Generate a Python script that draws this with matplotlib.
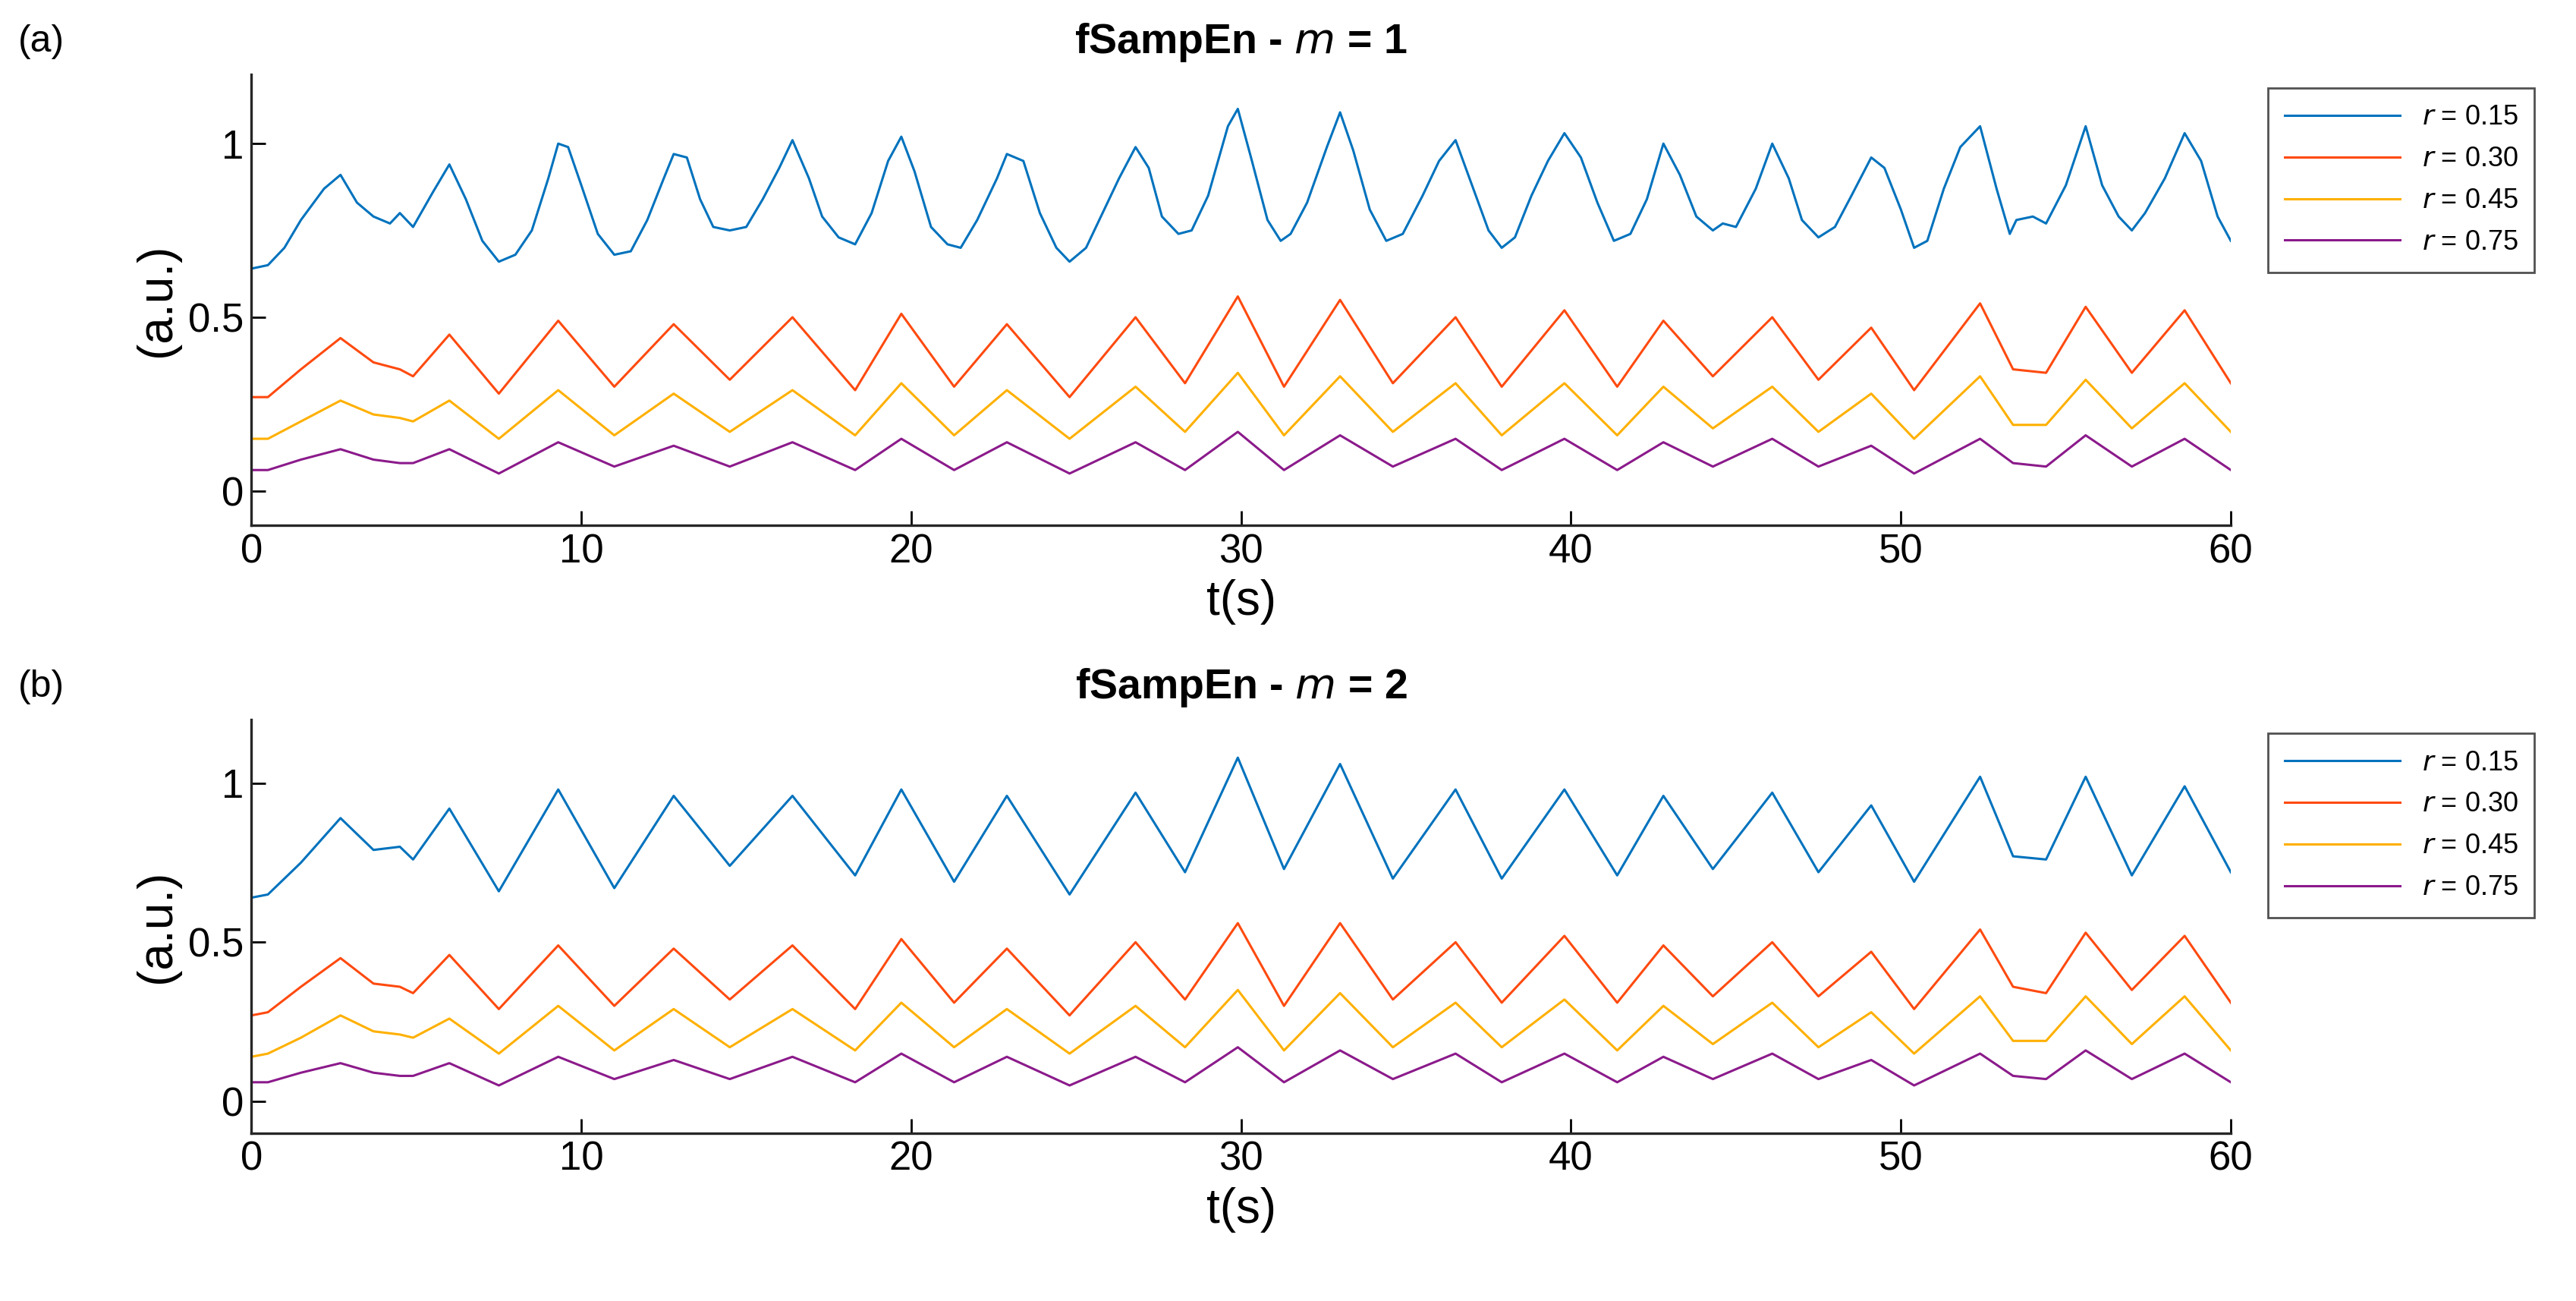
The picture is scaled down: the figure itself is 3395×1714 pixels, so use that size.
import numpy as np
import matplotlib
matplotlib.use("Agg")
import matplotlib.pyplot as plt

plt.rcParams["font.family"] = ["Liberation Sans", "DejaVu Sans"]

# ── detailed blue trace, panel (a) ──
t_a = [0, 0.5, 1, 1.5, 2.2, 2.7, 3.2, 3.7, 4.2, 4.5, 4.9, 5.5, 6.0, 6.5, 7.0, 7.5, 8.0, 8.5,
       9.0, 9.3, 9.6, 10.0, 10.5, 11.0, 11.5, 12.0, 12.5, 12.8, 13.2, 13.6, 14.0, 14.5, 15.0,
       15.5, 16.0, 16.4, 16.9, 17.3, 17.8, 18.3, 18.8, 19.3, 19.7, 20.1, 20.6, 21.1, 21.5,
       22.0, 22.6, 22.9, 23.4, 23.9, 24.4, 24.8, 25.3, 25.8, 26.3, 26.8, 27.2, 27.6, 28.1,
       28.5, 29.0, 29.6, 29.9, 30.3, 30.8, 31.2, 31.5, 32.0, 32.6, 33.0, 33.4, 33.9, 34.4,
       34.9, 35.5, 36.0, 36.5, 37.0, 37.5, 37.9, 38.3, 38.8, 39.3, 39.8, 40.3, 40.8, 41.3,
       41.8, 42.3, 42.8, 43.3, 43.8, 44.3, 44.6, 45.0, 45.6, 46.1, 46.6, 47.0, 47.5, 48.0,
       48.5, 49.1, 49.5, 50.0, 50.4, 50.8, 51.3, 51.8, 52.4, 52.9, 53.3, 53.5, 54.0, 54.4,
       55.0, 55.6, 56.1, 56.6, 57.0, 57.4, 58.0, 58.6, 59.1, 59.6, 60]
blue_a = [0.64, 0.65, 0.70, 0.78, 0.87, 0.91, 0.83, 0.79, 0.77, 0.80, 0.76, 0.86, 0.94, 0.84,
          0.72, 0.66, 0.68, 0.75, 0.90, 1.00, 0.99, 0.88, 0.74, 0.68, 0.69, 0.78, 0.90, 0.97,
          0.96, 0.84, 0.76, 0.75, 0.76, 0.84, 0.93, 1.01, 0.90, 0.79, 0.73, 0.71, 0.80, 0.95,
          1.02, 0.92, 0.76, 0.71, 0.70, 0.78, 0.90, 0.97, 0.95, 0.80, 0.70, 0.66, 0.70, 0.80,
          0.90, 0.99, 0.93, 0.79, 0.74, 0.75, 0.85, 1.05, 1.10, 0.96, 0.78, 0.72, 0.74, 0.83,
          0.99, 1.09, 0.98, 0.81, 0.72, 0.74, 0.85, 0.95, 1.01, 0.88, 0.75, 0.70, 0.73, 0.85,
          0.95, 1.03, 0.96, 0.83, 0.72, 0.74, 0.84, 1.00, 0.91, 0.79, 0.75, 0.77, 0.76, 0.87,
          1.00, 0.90, 0.78, 0.73, 0.76, 0.85, 0.96, 0.93, 0.81, 0.70, 0.72, 0.87, 0.99, 1.05,
          0.87, 0.74, 0.78, 0.79, 0.77, 0.88, 1.05, 0.88, 0.79, 0.75, 0.80, 0.90, 1.03, 0.95,
          0.79, 0.72]

# ── peak / trough key points for the other traces ──
t_k = [0, 0.5, 1.5, 2.7, 3.7, 4.5, 4.9, 6.0, 7.5, 9.3, 11.0, 12.8, 14.5, 16.4, 18.3, 19.7,
       21.3, 22.9, 24.8, 26.8, 28.3, 29.9, 31.3, 33.0, 34.6, 36.5, 37.9, 39.8, 41.4, 42.8,
       44.3, 46.1, 47.5, 49.1, 50.4, 52.4, 53.4, 54.4, 55.6, 57.0, 58.6, 60]
red_a = [0.27, 0.27, 0.35, 0.44, 0.37, 0.35, 0.33, 0.45, 0.28, 0.49, 0.30, 0.48, 0.32, 0.50,
         0.29, 0.51, 0.30, 0.48, 0.27, 0.50, 0.31, 0.56, 0.30, 0.55, 0.31, 0.50, 0.30, 0.52,
         0.30, 0.49, 0.33, 0.50, 0.32, 0.47, 0.29, 0.54, 0.35, 0.34, 0.53, 0.34, 0.52, 0.31]
yellow_a = [0.15, 0.15, 0.20, 0.26, 0.22, 0.21, 0.20, 0.26, 0.15, 0.29, 0.16, 0.28, 0.17,
            0.29, 0.16, 0.31, 0.16, 0.29, 0.15, 0.30, 0.17, 0.34, 0.16, 0.33, 0.17, 0.31,
            0.16, 0.31, 0.16, 0.30, 0.18, 0.30, 0.17, 0.28, 0.15, 0.33, 0.19, 0.19, 0.32,
            0.18, 0.31, 0.17]
purple_a = [0.06, 0.06, 0.09, 0.12, 0.09, 0.08, 0.08, 0.12, 0.05, 0.14, 0.07, 0.13, 0.07,
            0.14, 0.06, 0.15, 0.06, 0.14, 0.05, 0.14, 0.06, 0.17, 0.06, 0.16, 0.07, 0.15,
            0.06, 0.15, 0.06, 0.14, 0.07, 0.15, 0.07, 0.13, 0.05, 0.15, 0.08, 0.07, 0.16,
            0.07, 0.15, 0.06]

blue_b = [0.64, 0.65, 0.75, 0.89, 0.79, 0.80, 0.76, 0.92, 0.66, 0.98, 0.67, 0.96, 0.74, 0.96,
          0.71, 0.98, 0.69, 0.96, 0.65, 0.97, 0.72, 1.08, 0.73, 1.06, 0.70, 0.98, 0.70, 0.98,
          0.71, 0.96, 0.73, 0.97, 0.72, 0.93, 0.69, 1.02, 0.77, 0.76, 1.02, 0.71, 0.99, 0.72]
red_b = [0.27, 0.28, 0.36, 0.45, 0.37, 0.36, 0.34, 0.46, 0.29, 0.49, 0.30, 0.48, 0.32, 0.49,
         0.29, 0.51, 0.31, 0.48, 0.27, 0.50, 0.32, 0.56, 0.30, 0.56, 0.32, 0.50, 0.31, 0.52,
         0.31, 0.49, 0.33, 0.50, 0.33, 0.47, 0.29, 0.54, 0.36, 0.34, 0.53, 0.35, 0.52, 0.31]
yellow_b = [0.14, 0.15, 0.20, 0.27, 0.22, 0.21, 0.20, 0.26, 0.15, 0.30, 0.16, 0.29, 0.17,
            0.29, 0.16, 0.31, 0.17, 0.29, 0.15, 0.30, 0.17, 0.35, 0.16, 0.34, 0.17, 0.31,
            0.17, 0.32, 0.16, 0.30, 0.18, 0.31, 0.17, 0.28, 0.15, 0.33, 0.19, 0.19, 0.33,
            0.18, 0.33, 0.16]
purple_b = purple_a

labels = ["$r$ = 0.15", "$r$ = 0.30", "$r$ = 0.45", "$r$ = 0.75"]
colors = ["#0072BD", "#FF4A0F", "#FFB000", "#8B1A8B"]

panels = [
    ("(a)", "fSampEn - $\\mathbf{\\it{m}}$ = 1", [(t_a, blue_a), (t_k, red_a), (t_k, yellow_a), (t_k, purple_a)]),
    ("(b)", "fSampEn - $\\mathbf{\\it{m}}$ = 2", [(t_k, blue_b), (t_k, red_b), (t_k, yellow_b), (t_k, purple_b)]),
]

fig = plt.figure(figsize=(16.975, 8.57), dpi=200)
rects = [[0.0976, 0.596, 0.7684, 0.347], [0.0976, 0.129, 0.7684, 0.318]]

for rect, (tag, title, series) in zip(rects, panels):
    ax = fig.add_axes(rect)
    for (t, v), c, lab in zip(series, colors, labels):
        ax.plot(t, v, color=c, lw=1.1, label=lab)
    ax.set_xlim(0, 60)
    ax.set_ylim(-0.1, 1.2)
    ax.set_xticks(range(0, 61, 10))
    ax.set_yticks([0, 0.5, 1])
    ax.set_yticklabels(["0", "0.5", "1"])
    ax.tick_params(direction="in", labelsize=19, length=7, width=1)
    for s in ("top", "right"):
        ax.spines[s].set_visible(False)
    for s in ("left", "bottom"):
        ax.spines[s].set_linewidth(1.2)
        ax.spines[s].set_color("#262626")
    ax.set_xlabel("t(s)", fontsize=23)
    ax.set_ylabel("(a.u.)", fontsize=23)
    ax.set_title(title, fontsize=20, fontweight="bold", pad=10)
    fig.text(0.007, rect[1] + rect[3] + 0.025, tag, fontsize=18, va="center")
    ax.legend(loc="upper left", bbox_to_anchor=(1.012, 1.0), fontsize=13,
              frameon=True, fancybox=False, edgecolor="#262626", handlelength=4.2,
              borderpad=0.6, labelspacing=0.55)

fig.savefig("out.png", dpi=200)
